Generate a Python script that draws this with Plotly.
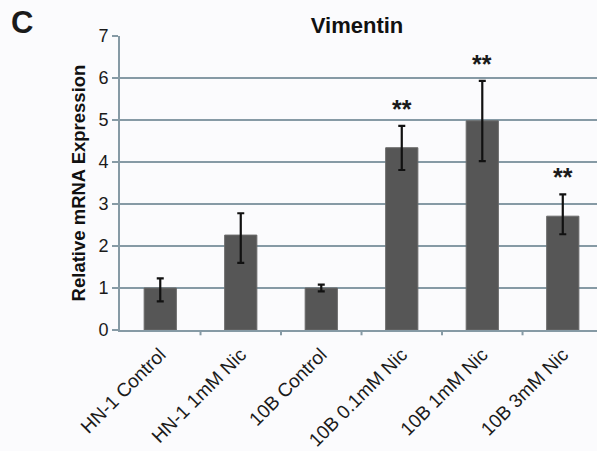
import plotly.graph_objects as go

# Relative vimentin mRNA expression per condition (mean with asymmetric error bars)
conditions = ["HN-1 Control", "HN-1 1mM Nic", "10B Control",
              "10B 0.1mM Nic", "10B 1mM Nic", "10B 3mM Nic"]
expression = [1.0, 2.26, 1.0, 4.34, 4.98, 2.71]
err_upper = [0.23, 0.52, 0.08, 0.52, 0.95, 0.52]
err_lower = [0.32, 0.66, 0.08, 0.53, 0.96, 0.43]
significance = ["", "", "", "**", "**", "**"]
y_ticks = [0, 1, 2, 3, 4, 5, 6, 7]

grid_color = "#869aa5"
bg = "#fbfbfd"
font_family = "Arial, Liberation Sans"

fig = go.Figure()
fig.add_trace(go.Bar(
    x=conditions,
    y=expression,
    marker=dict(color="#565656", line=dict(color="#6a6a6a", width=1)),
    width=0.4,
    error_y=dict(type="data", symmetric=False, array=err_upper,
                 arrayminus=err_lower, color="#111111", thickness=2.2, width=3.5),
))

# Significance markers above the error bars
for cond, m, e, s in zip(conditions, expression, err_upper, significance):
    if s:
        fig.add_annotation(x=cond, y=m + e, text="<b>" + s + "</b>", showarrow=False,
                           yanchor="bottom", yshift=1,
                           font=dict(family=font_family, size=25, color="#1a1a1a"))

fig.add_annotation(xref="paper", yref="paper", x=-0.205, y=1.045, text="<b>C</b>",
                   showarrow=False, xanchor="center", yanchor="middle",
                   font=dict(family=font_family, size=31, color="#1a1a1a"))

fig.update_layout(
    width=597, height=451,
    margin=dict(l=120, r=0, t=36, b=121),
    paper_bgcolor=bg, plot_bgcolor=bg,
    showlegend=False,
    title=dict(text="<b>Vimentin</b>", xref="paper", x=0.497, xanchor="center",
               y=0.943, yanchor="middle",
               font=dict(family=font_family, size=22, color="#111111")),
    font=dict(family=font_family, color="#1a1a1a"),
)

fig.update_xaxes(
    range=[-0.5, 5.425],
    tickangle=-45,
    tickfont=dict(size=19, color="#1a1a1a"),
    ticklabelstandoff=4,
    showline=True, linecolor=grid_color, linewidth=2,
    showgrid=False,
    ticks="",
)
# Boundary ticks between categories
for k in range(1, 6):
    fig.add_shape(type="line", xref="x", yref="paper", x0=k - 0.5, x1=k - 0.5,
                  y0=0, y1=-0.018, line=dict(color=grid_color, width=2))

fig.update_yaxes(
    range=[0, 7],
    tickvals=y_ticks,
    tickfont=dict(size=18, color="#1a1a1a"),
    ticks="outside", ticklen=6, tickcolor=grid_color, tickwidth=2,
    showline=True, linecolor=grid_color, linewidth=2,
    showgrid=True, gridcolor=grid_color, gridwidth=2,
    zeroline=False,
    title=dict(text="<b>Relative mRNA Expression</b>", standoff=8,
               font=dict(size=18.5, color="#111111")),
)

fig.write_html("out.html")
